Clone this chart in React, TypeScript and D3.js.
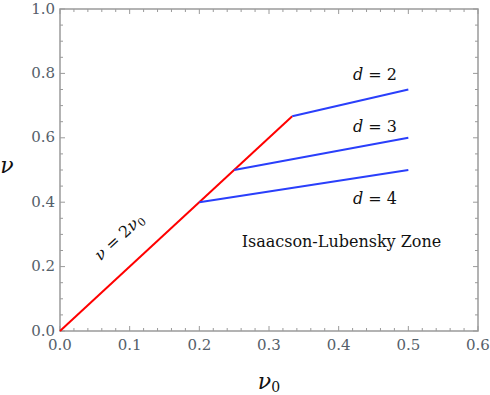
import React from 'react';
import * as d3 from 'd3';

const xTicks = [0, 0.1, 0.2, 0.3, 0.4, 0.5, 0.6];
const yTicks = [0, 0.2, 0.4, 0.6, 0.8, 1.0];
const redLine = [
  [0, 0],
  [1 / 3, 2 / 3],
];
const dValues = [2, 3, 4];
const blueStarts = [
  [1 / 3, 2 / 3],
  [0.25, 0.5],
  [0.2, 0.4],
];
const blueEnds = [
  [0.5, 0.75],
  [0.5, 0.6],
  [0.5, 0.5],
];
const dLabelPos = [
  [0.452, 0.78],
  [0.452, 0.618],
  [0.452, 0.395],
];

const W = 490;
const H = 395;
const left = 60;
const right = 478;
const top = 9;
const bottom = 331;
const frame = '#9a9a9a';
const textGray = '#55606a';

export default function App() {
  const x = d3.scaleLinear().domain([0, 0.6]).range([left, right]);
  const y = d3.scaleLinear().domain([0, 1]).range([bottom, top]);
  const line = d3
    .line<number[]>()
    .x(d => x(d[0]))
    .y(d => y(d[1]));

  const xMinor = d3.range(0, 0.6001, 0.02);
  const yMinor = d3.range(0, 1.0001, 0.05);

  // label for the red line follows its slope on screen
  const angle = (Math.atan2(y(2 / 3) - y(0), x(1 / 3) - x(0)) * 180) / Math.PI;
  const lx = x(0.09);
  const ly = y(0.28);

  return (
    <svg width={W} height={H} style={{ position: 'absolute', left: 0, top: 0 }}>
      <rect x={0} y={0} width={W} height={H} fill="#fff" />
      {xMinor.map((t, i) => {
        const major = Math.abs(Math.round(t * 10) - t * 10) < 1e-6;
        const len = major ? 5 : 3;
        return (
          <g key={'xm' + i} stroke={frame} strokeWidth={1}>
            <line x1={x(t)} x2={x(t)} y1={bottom} y2={bottom - len} />
            <line x1={x(t)} x2={x(t)} y1={top} y2={top + len} />
          </g>
        );
      })}
      {yMinor.map((t, i) => {
        const major = Math.abs(Math.round(t * 5) - t * 5) < 1e-6;
        const len = major ? 5 : 3;
        return (
          <g key={'ym' + i} stroke={frame} strokeWidth={1}>
            <line x1={left} x2={left + len} y1={y(t)} y2={y(t)} />
            <line x1={right} x2={right - len} y1={y(t)} y2={y(t)} />
          </g>
        );
      })}
      <rect
        x={left}
        y={top}
        width={right - left}
        height={bottom - top}
        fill="none"
        stroke={frame}
        strokeWidth={1.5}
      />
      {xTicks.map(t => (
        <text
          key={'xt' + t}
          x={x(t)}
          y={bottom + 19}
          textAnchor="middle"
          fontFamily="DejaVu Serif"
          fontSize={15}
          fill={textGray}
        >
          {t.toFixed(1)}
        </text>
      ))}
      {yTicks.map(t => (
        <text
          key={'yt' + t}
          x={left - 5}
          y={y(t) + 4.5}
          textAnchor="end"
          fontFamily="DejaVu Serif"
          fontSize={15}
          fill={textGray}
        >
          {t.toFixed(1)}
        </text>
      ))}

      <path d={line(redLine) || ''} stroke="#ff0000" strokeWidth={2} fill="none" />
      {blueStarts.map((s, i) => (
        <path
          key={'b' + i}
          d={line([s, blueEnds[i]]) || ''}
          stroke="#2a3ffb"
          strokeWidth={2}
          fill="none"
        />
      ))}
      {dValues.map((d, i) => (
        <text
          key={'d' + d}
          x={x(dLabelPos[i][0])}
          y={y(dLabelPos[i][1])}
          textAnchor="middle"
          fontFamily="DejaVu Serif"
          fontSize={16}
          fill="#111"
        >
          <tspan fontStyle="italic">d</tspan> = {d}
        </text>
      ))}
      <text
        x={x(0.404)}
        y={y(0.26)}
        textAnchor="middle"
        fontFamily="DejaVu Serif"
        fontSize={16}
        fill="#111"
      >
        Isaacson-Lubensky Zone
      </text>
      <text
        transform={`translate(${lx},${ly}) rotate(${angle})`}
        textAnchor="middle"
        fontFamily="DejaVu Serif"
        fontSize={16}
        fill="#111"
      >
        <tspan fontStyle="italic">ν</tspan> = 2<tspan fontStyle="italic">ν</tspan>
        <tspan fontSize={11} dy={3}>0</tspan>
      </text>

      <text
        x={7}
        y={173}
        textAnchor="middle"
        fontFamily="DejaVu Serif"
        fontStyle="italic"
        fontSize={22}
        fill="#111"
      >
        ν
      </text>
      <text
        x={(left + right) / 2}
        y={389}
        textAnchor="middle"
        fontFamily="DejaVu Serif"
        fontSize={22}
        fill="#111"
      >
        <tspan fontStyle="italic">ν</tspan>
        <tspan fontSize={14} dy={3}>0</tspan>
      </text>
    </svg>
  );
}
